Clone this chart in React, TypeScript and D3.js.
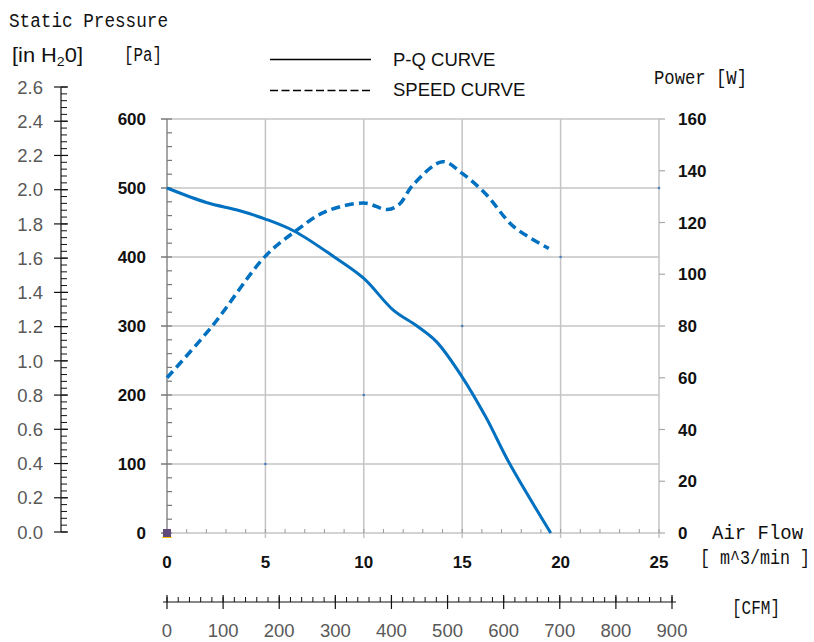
import * as React from "react";
import * as d3 from "d3";

// axis ticks
const flowTicks = [0, 5, 10, 15, 20, 25];
const pressureTicks = [0, 100, 200, 300, 400, 500, 600];
const powerTicks = [0, 20, 40, 60, 80, 100, 120, 140, 160];
const inchTicks = ["0.0", "0.2", "0.4", "0.6", "0.8", "1.0", "1.2", "1.4", "1.6", "1.8", "2.0", "2.2", "2.4", "2.6"];
const cfmTicks = [0, 100, 200, 300, 400, 500, 600, 700, 800, 900];

// P-Q curve (m^3/min vs Pa)
const pqFlow = [0, 2, 3.7, 5, 6.5, 8.5, 10, 11.5, 12.7, 13.7, 15, 16.2, 17.4, 19.5];
const pqPressure = [500, 479, 467, 455, 437, 400, 369, 323, 300, 277, 226, 168, 101, 0];

// speed curve (m^3/min vs W)
const speedFlow = [0, 2.3, 5, 6.5, 8, 10, 11.2, 11.8, 12.5, 14, 15, 16.2, 17.6, 19.4];
const speedPower = [60, 80, 107, 116.5, 124, 127.5, 125, 127, 134.5, 143.5, 139, 131, 118.5, 110];

// stray markers left in the source sheet
const strayFlow = [5, 10, 15, 20, 25];
const strayPressure = [100, 200, 300, 400, 500];

const W = 814;
const H = 642;
const blue = "#0070C0";
const grid = "#c4c4c4";
const mono = "'Liberation Mono', 'DejaVu Sans Mono', monospace";
const sans = "'Liberation Sans', Arial, sans-serif";

export default function App() {
  const x = d3.scaleLinear().domain([0, 25]).range([167, 659]);
  const y = d3.scaleLinear().domain([0, 600]).range([533, 119]);
  const yPow = d3.scaleLinear().domain([0, 160]).range([533, 119]);
  const yIn = d3.scaleLinear().domain([0, 2.6]).range([532, 87]);
  const xCfm = d3.scaleLinear().domain([0, 900]).range([167, 672]);

  const pqLine = d3
    .line<number>()
    .x((d) => x(d))
    .y((_, i) => y(pqPressure[i]))
    .curve(d3.curveCatmullRom.alpha(0.5));
  const speedLine = d3
    .line<number>()
    .x((d) => x(d))
    .y((_, i) => yPow(speedPower[i]))
    .curve(d3.curveCatmullRom.alpha(0.5));

  const inchMinor = d3.range(0, 2.6001, 0.04);
  const cfmMinor = d3.range(0, 900.01, 20);
  const flowMinor = d3.range(0, 25.01, 1);
  const pressMinor = d3.range(0, 600.01, 20);

  return (
    <div style={{ position: "absolute", left: 0, top: 0 }}>
      <svg width={W} height={H} style={{ display: "block", background: "#fff" }}>
        {/* titles */}
        <text x={9} y={27} fontFamily={mono} fontSize={20} textLength={159} lengthAdjust="spacingAndGlyphs" fill="#111">
          Static Pressure
        </text>
        <text x={12} y={62} fontFamily={sans} fontSize={20} textLength={71} lengthAdjust="spacingAndGlyphs" fill="#111">
          [in H<tspan fontSize={13} dy={4}>2</tspan>
          <tspan dy={-4}>0]</tspan>
        </text>
        <text x={124} y={61} fontFamily={mono} fontSize={20} textLength={38} lengthAdjust="spacingAndGlyphs" fill="#111">
          [Pa]
        </text>
        <text x={654} y={84} fontFamily={mono} fontSize={20} textLength={93} lengthAdjust="spacingAndGlyphs" fill="#111">
          Power [W]
        </text>
        <text x={712} y={539} fontFamily={mono} fontSize={20} textLength={91} lengthAdjust="spacingAndGlyphs" fill="#111">
          Air Flow
        </text>
        <g transform="translate(700,564) scale(1,1.15)">
          <text x={0} y={0} fontFamily={mono} fontSize={17} textLength={110} lengthAdjust="spacingAndGlyphs" fill="#111">
            [ m^3/min ]
          </text>
        </g>
        <text x={732} y={614} fontFamily={mono} fontSize={20} textLength={48} lengthAdjust="spacingAndGlyphs" fill="#111">
          [CFM]
        </text>

        {/* legend */}
        <line x1={270} x2={371} y1={59.5} y2={59.5} stroke="#000" strokeWidth={1.3} />
        <line x1={270} x2={371} y1={90.5} y2={90.5} stroke="#000" strokeWidth={1.3} strokeDasharray="8,3.5" />
        <text x={393} y={65.5} fontFamily={sans} fontSize={18.5} fill="#111">P-Q CURVE</text>
        <text x={393} y={95.5} fontFamily={sans} fontSize={18.5} fill="#111">SPEED CURVE</text>

        {/* in H2O axis */}
        <line x1={61} x2={61} y1={yIn(2.6)} y2={yIn(0)} stroke="#111" strokeWidth={1.2} />
        {inchMinor.map((v, i) => (
          <line key={"im" + i} x1={61} x2={67} y1={yIn(v)} y2={yIn(v)} stroke="#111" strokeWidth={1} />
        ))}
        {inchTicks.map((t) => (
          <g key={"in" + t}>
            <line x1={54} x2={68} y1={yIn(+t)} y2={yIn(+t)} stroke="#111" strokeWidth={1.2} />
            <text x={43} y={yIn(+t)} dy="0.36em" textAnchor="end" fontFamily={sans} fontSize={18.5} fill="#595959">
              {t}
            </text>
          </g>
        ))}

        {/* grid */}
        {pressureTicks.map((p) => (
          <line key={"gh" + p} x1={x(0)} x2={x(25)} y1={y(p)} y2={y(p)} stroke={grid} strokeWidth={1.5} />
        ))}
        {flowTicks.filter((f) => f > 0).map((f) => (
          <line key={"gv" + f} x1={x(f)} x2={x(f)} y1={y(600)} y2={y(0) + 5} stroke={grid} strokeWidth={1.5} />
        ))}

        {/* left pressure axis */}
        <line x1={x(0)} x2={x(0)} y1={y(600)} y2={y(0) + 5} stroke="#8a8a8a" strokeWidth={1.5} />
        {pressMinor.map((p, i) => (
          <line key={"pm" + i} x1={x(0)} x2={x(0) + 5} y1={y(p)} y2={y(p)} stroke="#777" strokeWidth={1.2} />
        ))}
        {pressureTicks.map((p) => (
          <g key={"pt" + p}>
            <line x1={x(0) - 6} x2={x(0)} y1={y(p)} y2={y(p)} stroke="#777" strokeWidth={1.5} />
            <text x={146} y={y(p)} dy="0.36em" textAnchor="end" fontFamily={sans} fontWeight="bold" fontSize={17} fill="#111">
              {p}
            </text>
          </g>
        ))}

        {/* bottom flow axis */}
        {flowMinor.map((f, i) => (
          <line key={"fm" + i} x1={x(f)} x2={x(f)} y1={y(0)} y2={y(0) - 4} stroke="#999" strokeWidth={1} />
        ))}
        {flowTicks.map((f) => (
          <text key={"ft" + f} x={x(f)} y={562} dy="0.36em" textAnchor="middle" fontFamily={sans} fontWeight="bold" fontSize={17} fill="#111">
            {f}
          </text>
        ))}

        {/* right power axis */}
        {powerTicks.map((p) => (
          <g key={"pw" + p}>
            <line x1={x(25)} x2={x(25) + 6} y1={yPow(p)} y2={yPow(p)} stroke="#aaa" strokeWidth={1.2} />
            <text x={678} y={yPow(p)} dy="0.36em" fontFamily={sans} fontWeight="bold" fontSize={17} fill="#111">
              {p}
            </text>
          </g>
        ))}

        {/* CFM axis */}
        <line x1={163} x2={676} y1={602} y2={602} stroke="#111" strokeWidth={1.2} />
        {cfmMinor.map((c, i) => (
          <line key={"cm" + i} x1={xCfm(c)} x2={xCfm(c)} y1={597} y2={602} stroke="#111" strokeWidth={1} />
        ))}
        {cfmTicks.map((c) => (
          <g key={"ct" + c}>
            <line x1={xCfm(c)} x2={xCfm(c)} y1={595} y2={609} stroke="#111" strokeWidth={1.2} />
            <text x={xCfm(c)} y={630} dy="0.36em" textAnchor="middle" fontFamily={sans} fontSize={18.5} fill="#595959">
              {c}
            </text>
          </g>
        ))}

        {/* stray markers */}
        {strayFlow.map((f, i) => (
          <circle key={"s" + i} cx={x(f)} cy={y(strayPressure[i])} r={1.3} fill="#4a7ebb" />
        ))}
        <path
          d={`M${x(0) - 5},${y(0) + 5} L${x(0) + 5},${y(0) + 5} L${x(0)},${y(0) - 4} Z`}
          fill="#FFC000"
        />
        <rect x={x(0) - 4} y={y(0) - 4} width={8} height={8} fill="#604A7B" />

        {/* curves */}
        <path d={speedLine(speedFlow) || ""} fill="none" stroke={blue} strokeWidth={3.5} strokeDasharray="9,5" />
        <path d={pqLine(pqFlow) || ""} fill="none" stroke={blue} strokeWidth={3} />
      </svg>
    </div>
  );
}
